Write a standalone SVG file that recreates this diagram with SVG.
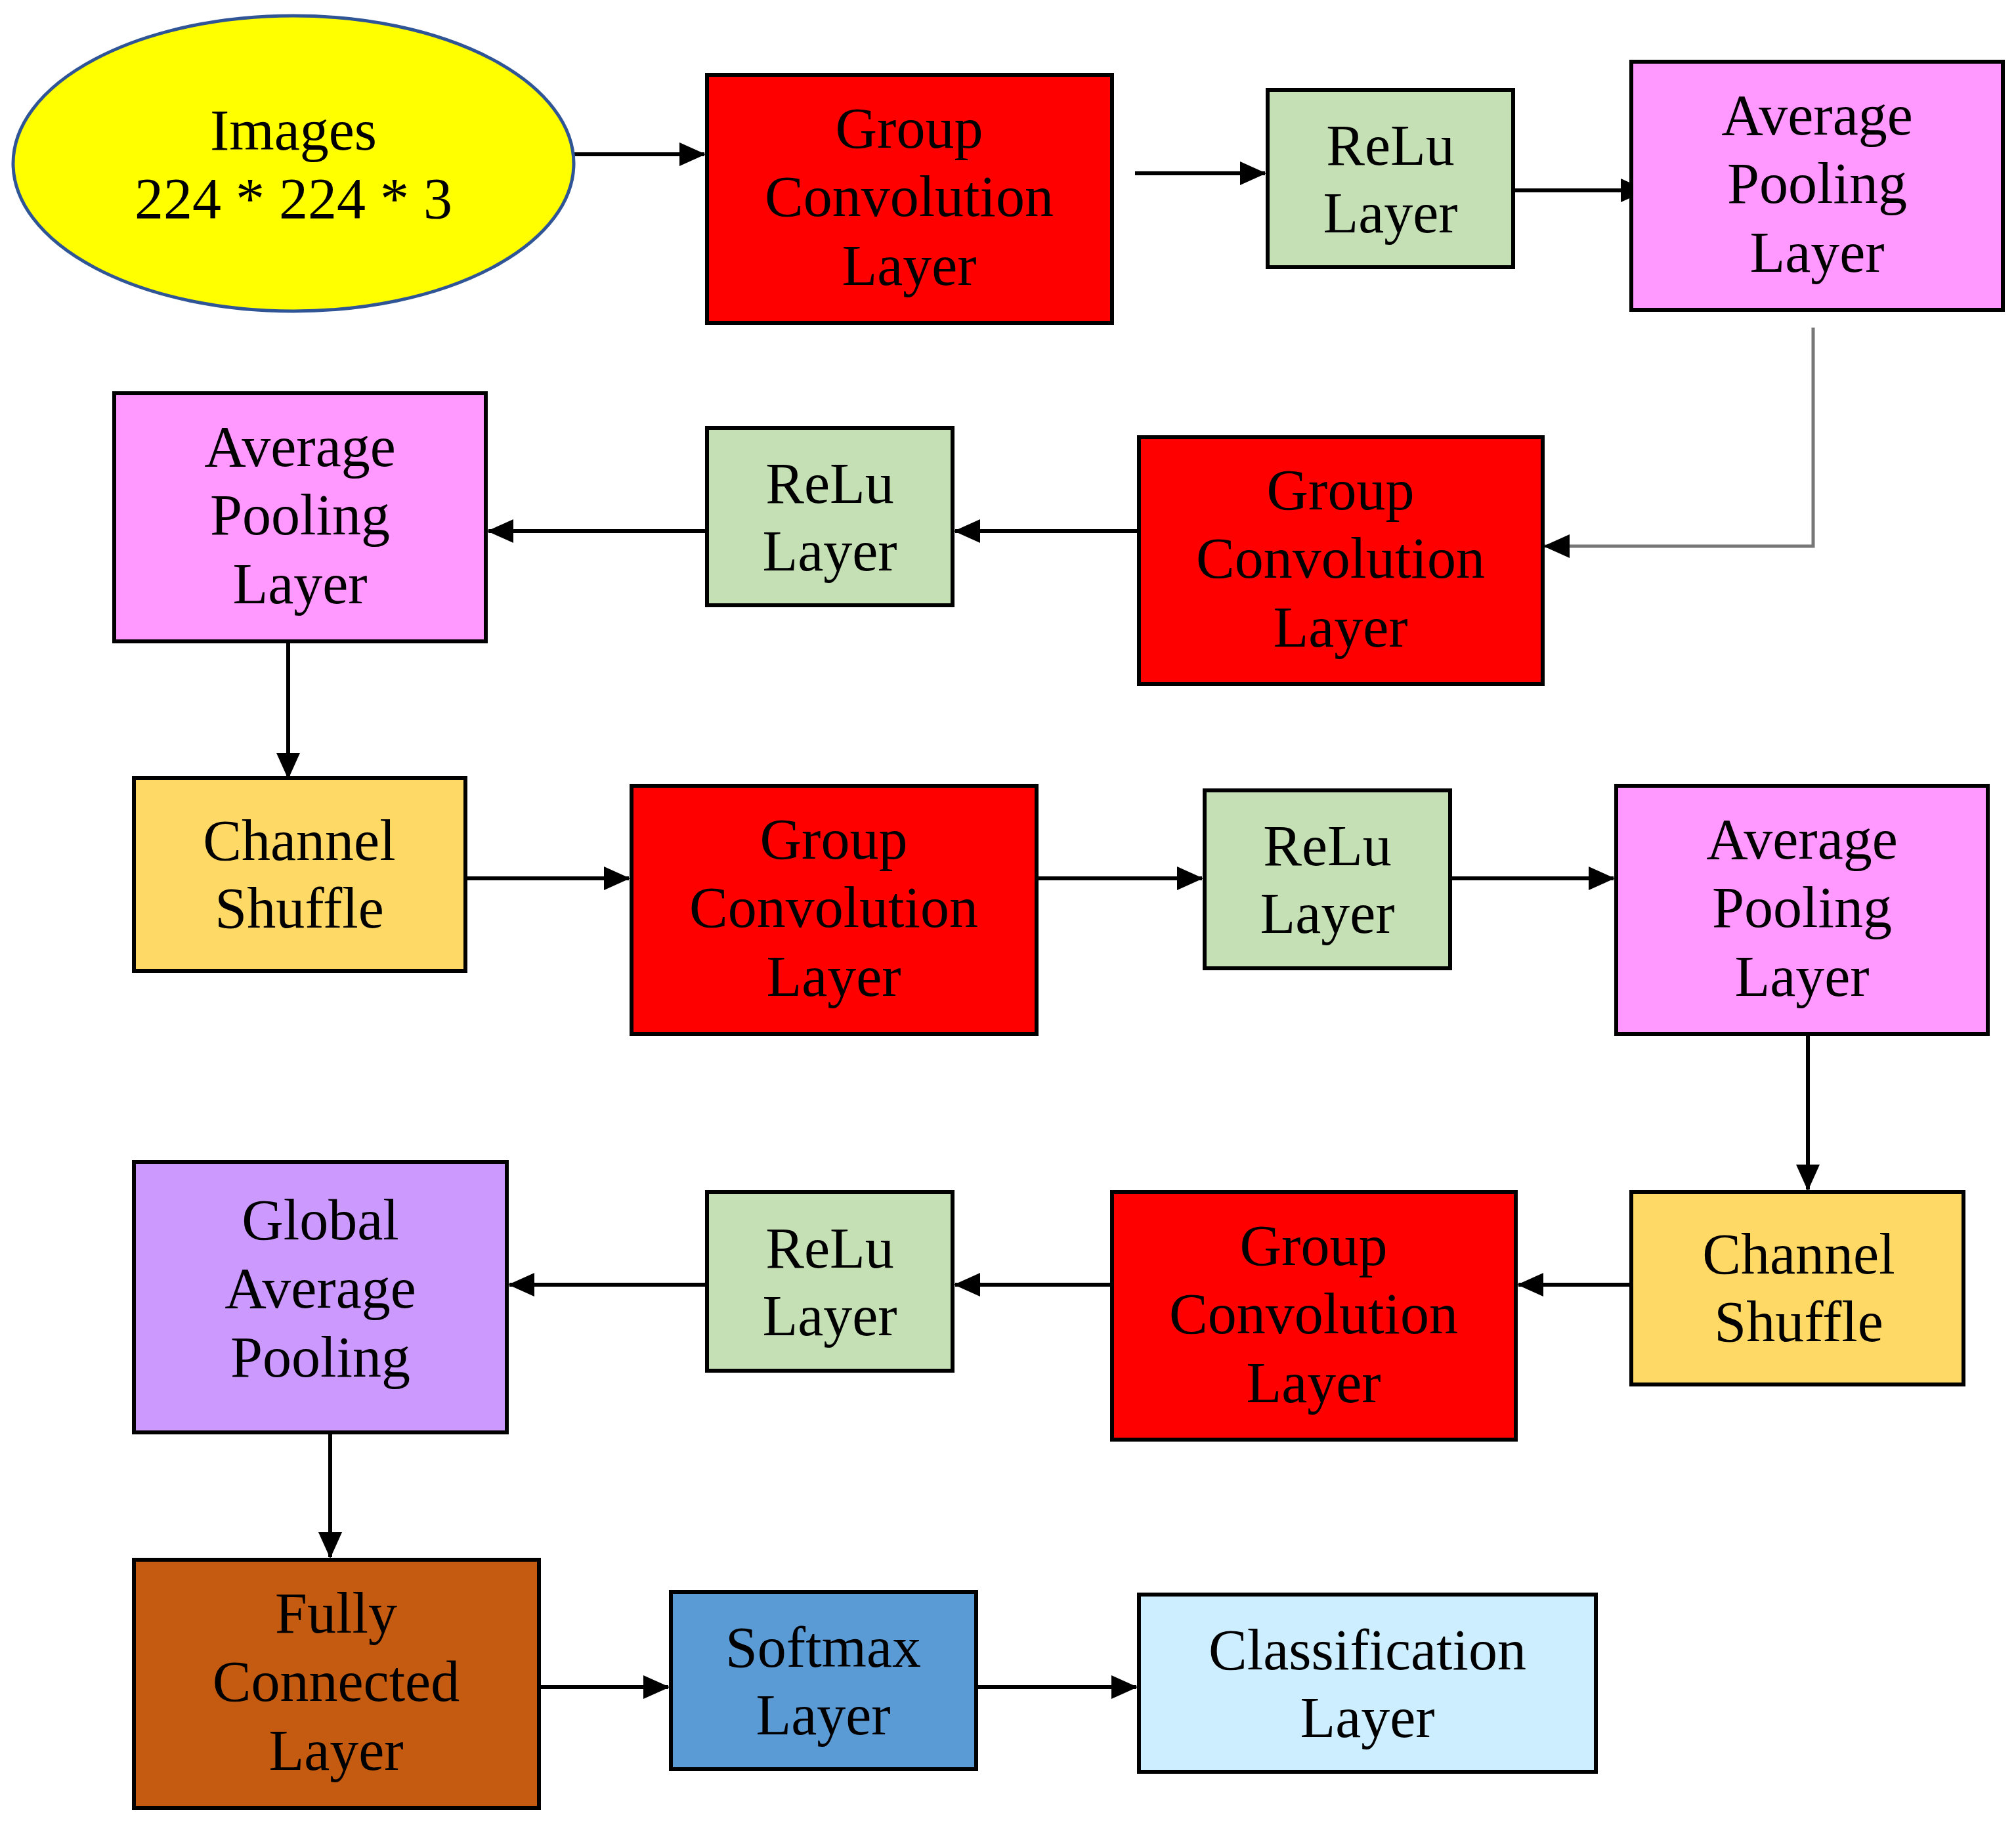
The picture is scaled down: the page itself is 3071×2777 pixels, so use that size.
<svg xmlns="http://www.w3.org/2000/svg" width="3071" height="2777" viewBox="0 0 3071 2777">
<style>
.b{stroke:#000;stroke-width:6}
.t{font-family:"Liberation Serif","Times New Roman",serif;font-size:88px;text-anchor:middle;fill:#000}
.c{stroke:#000;stroke-width:6;fill:none}
.gc{fill:#ff0000}.re{fill:#c5e0b4}.ap{fill:#ff99ff}.cs{fill:#ffd966}
</style>
<defs>
<marker id="a" markerUnits="userSpaceOnUse" markerWidth="40" markerHeight="40" refX="38" refY="20" orient="auto"><path d="M0,2 L40,20 L0,38 Z" fill="#000"/></marker>
<marker id="g" markerUnits="userSpaceOnUse" markerWidth="40" markerHeight="40" refX="38" refY="20" orient="auto"><path d="M0,2 L40,20 L0,38 Z" fill="#000"/></marker>
</defs>
<rect width="3071" height="2777" fill="#fff"/>
<g id="connectors">
<line class="c" x1="873" y1="235" x2="1073" y2="235" marker-end="url(#a)"/>
<line class="c" x1="1729" y1="264" x2="1927" y2="264" marker-end="url(#a)"/>
<line class="c" x1="2305" y1="290" x2="2507" y2="290" marker-end="url(#a)"/>
<polyline points="2762,499 2762,832 2353,832" fill="none" stroke="#777" stroke-width="5" marker-end="url(#g)"/>
<line class="c" x1="1735" y1="809" x2="1455" y2="809" marker-end="url(#a)"/>
<line class="c" x1="1077" y1="809" x2="744" y2="809" marker-end="url(#a)"/>
<line class="c" x1="439" y1="977" x2="439" y2="1185" marker-end="url(#a)"/>
<line class="c" x1="709" y1="1338" x2="958" y2="1338" marker-end="url(#a)"/>
<line class="c" x1="1579" y1="1338" x2="1831" y2="1338" marker-end="url(#a)"/>
<line class="c" x1="2209" y1="1338" x2="2458" y2="1338" marker-end="url(#a)"/>
<line class="c" x1="2754" y1="1575" x2="2754" y2="1812" marker-end="url(#a)"/>
<line class="c" x1="2485" y1="1957" x2="2313" y2="1957" marker-end="url(#a)"/>
<line class="c" x1="1694" y1="1957" x2="1455" y2="1957" marker-end="url(#a)"/>
<line class="c" x1="1077" y1="1957" x2="776" y2="1957" marker-end="url(#a)"/>
<line class="c" x1="503" y1="2182" x2="503" y2="2372" marker-end="url(#a)"/>
<line class="c" x1="821" y1="2570" x2="1018" y2="2570" marker-end="url(#a)"/>
<line class="c" x1="1487" y1="2570" x2="1731" y2="2570" marker-end="url(#a)"/>
</g>
<g id="images"><ellipse cx="447" cy="249" rx="427" ry="225" fill="#ffff00" stroke="#2f5597" stroke-width="5"/><text class="t" x="447" y="228">Images</text><text class="t" x="447" y="332">224 * 224 * 3</text></g>
<g id="gc1"><rect class="b gc" x="1077" y="114" width="617" height="378"/><text class="t" x="1385" y="225">Group</text><text class="t" x="1385" y="329">Convolution</text><text class="t" x="1385" y="434">Layer</text></g>
<g id="relu1"><rect class="b re" x="1931" y="137" width="374" height="270"/><text class="t" x="2118" y="251">ReLu</text><text class="t" x="2118" y="354">Layer</text></g>
<g id="ap1"><rect class="b ap" x="2485" y="94" width="566" height="378"/><text class="t" x="2768" y="205">Average</text><text class="t" x="2768" y="309">Pooling</text><text class="t" x="2768" y="414">Layer</text></g>
<g id="gc2"><rect class="b gc" x="1735" y="666" width="615" height="376"/><text class="t" x="2042" y="776">Group</text><text class="t" x="2042" y="880">Convolution</text><text class="t" x="2042" y="985">Layer</text></g>
<g id="relu2"><rect class="b re" x="1077" y="652" width="374" height="270"/><text class="t" x="1264" y="766">ReLu</text><text class="t" x="1264" y="869">Layer</text></g>
<g id="ap2"><rect class="b ap" x="174" y="599" width="566" height="378"/><text class="t" x="457" y="710">Average</text><text class="t" x="457" y="814">Pooling</text><text class="t" x="457" y="919">Layer</text></g>
<g id="cs1"><rect class="b cs" x="204" y="1185" width="505" height="294"/><text class="t" x="456" y="1310">Channel</text><text class="t" x="456" y="1413">Shuffle</text></g>
<g id="gc3"><rect class="b gc" x="962" y="1197" width="617" height="378"/><text class="t" x="1270" y="1308">Group</text><text class="t" x="1270" y="1412">Convolution</text><text class="t" x="1270" y="1517">Layer</text></g>
<g id="relu3"><rect class="b re" x="1835" y="1204" width="374" height="271"/><text class="t" x="2022" y="1318">ReLu</text><text class="t" x="2022" y="1421">Layer</text></g>
<g id="ap3"><rect class="b ap" x="2462" y="1197" width="566" height="378"/><text class="t" x="2745" y="1308">Average</text><text class="t" x="2745" y="1412">Pooling</text><text class="t" x="2745" y="1517">Layer</text></g>
<g id="cs2"><rect class="b cs" x="2485" y="1816" width="506" height="293"/><text class="t" x="2740" y="1940">Channel</text><text class="t" x="2740" y="2043">Shuffle</text></g>
<g id="gc4"><rect class="b gc" x="1694" y="1816" width="615" height="377"/><text class="t" x="2001" y="1927">Group</text><text class="t" x="2001" y="2031">Convolution</text><text class="t" x="2001" y="2136">Layer</text></g>
<g id="relu4"><rect class="b re" x="1077" y="1816" width="374" height="272"/><text class="t" x="1264" y="1931">ReLu</text><text class="t" x="1264" y="2034">Layer</text></g>
<g id="gap"><rect class="b" fill="#cc99ff" x="204" y="1770" width="568" height="412"/><text class="t" x="488" y="1888">Global</text><text class="t" x="488" y="1992">Average</text><text class="t" x="488" y="2097">Pooling</text></g>
<g id="fc"><rect class="b" fill="#c55a11" x="204" y="2376" width="617" height="378"/><text class="t" x="512" y="2487">Fully</text><text class="t" x="512" y="2591">Connected</text><text class="t" x="512" y="2696">Layer</text></g>
<g id="softmax"><rect class="b" fill="#5b9bd5" x="1022" y="2425" width="465" height="270"/><text class="t" x="1254" y="2539">Softmax</text><text class="t" x="1254" y="2642">Layer</text></g>
<g id="class"><rect class="b" fill="#cdeeff" x="1735" y="2429" width="696" height="270"/><text class="t" x="2083" y="2543">Classification</text><text class="t" x="2083" y="2646">Layer</text></g>
</svg>
